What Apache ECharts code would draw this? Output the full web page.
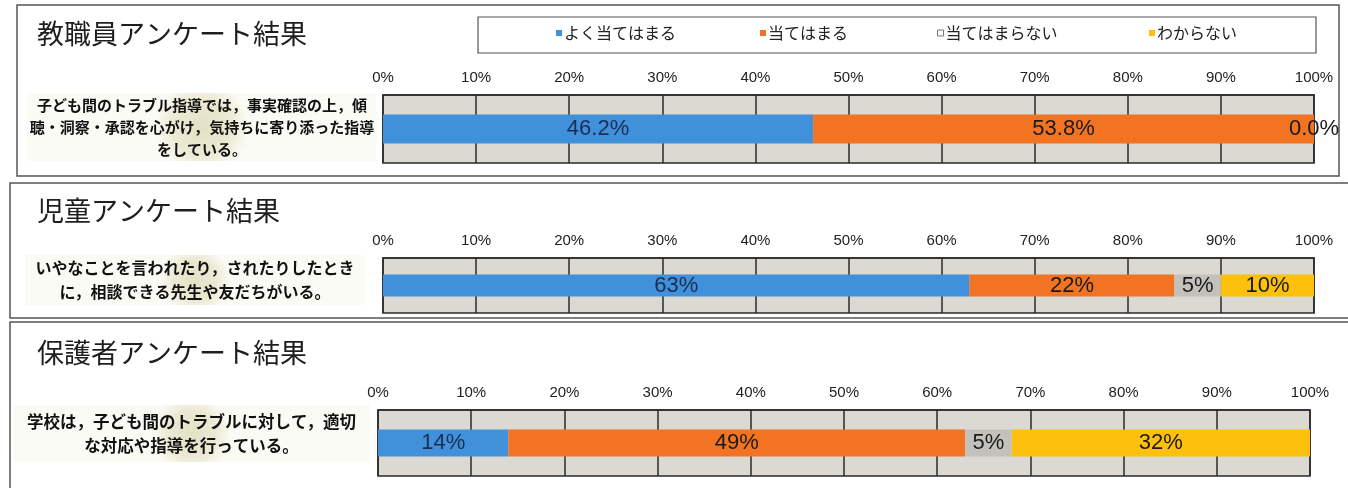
<!DOCTYPE html>
<html><head><meta charset="utf-8">
<script src="https://cdn.jsdelivr.net/npm/echarts@6/dist/echarts.min.js"></script>
<style>html,body{margin:0;padding:0;background:#fff}#c{width:1348px;height:488px}</style>
</head><body><div id="c"></div>
<script>
// ---- data ----
const seriesNames = ['よく当てはまる', '当てはまる', '当てはまらない', 'わからない'];
const seriesColors = ['#4190da', '#f27322', '#c2c1bb', '#fdc00c'];
const panelTitles = ['教職員アンケート結果', '児童アンケート結果', '保護者アンケート結果'];
const questions = [
  '子ども間のトラブル指導では，事実確認の上，傾\n聴・洞察・承認を心がけ，気持ちに寄り添った指導\nをしている。',
  'いやなことを言われたり，されたりしたとき\nに，相談できる先生や友だちがいる。',
  '学校は，子ども間のトラブルに対して，適切\nな対応や指導を行っている。'
];
const teacherValues = [46.2, 53.8, 0.0];
const childValues = [63, 22, 5, 10];
const parentValues = [14, 49, 5, 32];
const panelValues = [teacherValues, childValues, parentValues];
const labelDecimals = [1, 0, 0];
const axisMin = 0, axisMax = 100, axisStep = 10;

// ---- layout ----
const grids = [
  {left: 383, top: 95, width: 931, height: 68, barWidth: 29},
  {left: 383, top: 258, width: 931, height: 55, barWidth: 22},
  {left: 378, top: 410, width: 932, height: 66, barWidth: 27}
];
const titleTops = [20, 197, 339];
const legendLefts = [556, 760, 937, 1149];
const qBoxes = [
  {x: 27, y: 93, w: 350, h: 68, fs: 15, lh: 22},
  {x: 25, y: 255, w: 340, h: 50, fs: 16, lh: 24},
  {x: 13, y: 405, w: 357, h: 57, fs: 16.5, lh: 24}
];
const panelFrames = [
  {x: 17, y: 5, w: 1322, h: 171},
  {x: 10, y: 183, w: 1345, h: 135},
  {x: 10, y: 322, w: 1345, h: 170}
];

const latin = "'Liberation Sans','Arial',sans-serif";
const jp = "'Noto Sans CJK JP','Noto Sans CJK SC',sans-serif";

const option = {
  backgroundColor: '#fff',
  animation: false,
  title: panelTitles.map((t, i) => ({
    text: t, left: 37, top: titleTops[i], padding: 0,
    textStyle: {fontFamily: jp, fontSize: 27, fontWeight: 'normal', color: '#1e1e1e'}
  })),
  legend: seriesNames.map((n, i) => ({
    left: legendLefts[i], top: 25, padding: 0,
    itemWidth: 6, itemHeight: 6, icon: 'rect', itemGap: 0,
    textStyle: {fontFamily: jp, fontSize: 16, color: '#222', padding: [0, 0, 0, -3]},
    data: [i === 2
      ? {name: n, itemStyle: {color: '#fff', borderColor: '#777', borderWidth: 1}}
      : {name: n}]
  })),
  grid: grids.map(g => ({
    left: g.left, top: g.top, width: g.width, height: g.height,
    show: true, backgroundColor: '#dbd9d1', borderColor: '#2a2a2a', borderWidth: 1.5
  })),
  xAxis: grids.map((g, i) => ({
    type: 'value', gridIndex: i, position: 'top',
    min: axisMin, max: axisMax, interval: axisStep,
    axisLine: {show: true, lineStyle: {color: '#2a2a2a', width: 1.5}},
    axisTick: {show: false},
    splitLine: {show: true, lineStyle: {color: '#2a2a2a', width: 1.5}},
    axisLabel: {formatter: '{value}%', margin: 10, fontFamily: latin, fontSize: 15, color: '#222'}
  })),
  yAxis: grids.map((g, i) => ({
    type: 'category', gridIndex: i, data: [panelTitles[i]],
    axisLine: {show: false}, axisTick: {show: false}, axisLabel: {show: false}
  })),
  series: [],
  graphic: []
};

panelValues.forEach((vals, p) => {
  vals.forEach((v, s) => {
    option.series.push({
      type: 'bar', name: seriesNames[s], stack: 'p' + p,
      xAxisIndex: p, yAxisIndex: p,
      barWidth: grids[p].barWidth,
      data: [v],
      itemStyle: {color: seriesColors[s]},
      z: 3,
      label: {
        show: true, position: 'inside',
        formatter: d => d.value.toFixed(labelDecimals[p]) + '%',
        fontFamily: latin, fontSize: 22, color: s === 0 ? '#1b2d55' : '#1a1a1a'
      }
    });
  });
});

option.graphic.push({
  type: 'rect', shape: {x: 478, y: 17, width: 838, height: 36},
  style: {fill: '#fff', stroke: '#555', lineWidth: 1.2}, z: -1, silent: true
});

panelFrames.forEach(f => {
  option.graphic.push({
    type: 'rect', shape: {x: f.x, y: f.y, width: f.w, height: f.h},
    style: {fill: 'none', stroke: '#555', lineWidth: 1.5}, z: 1, silent: true
  });
});

qBoxes.forEach((b, i) => {
  option.graphic.push({
    type: 'rect', shape: {x: b.x, y: b.y, width: b.w, height: b.h},
    style: {
      fill: new echarts.graphic.RadialGradient(0.5, 0.5, 0.7, [
        {offset: 0, color: '#e4e1c4'}, {offset: 0.6, color: '#ebe9d3'}, {offset: 1, color: '#fbfbf6'}
      ])
    }, z: 1, silent: true
  });
  option.graphic.push({
    type: 'text', x: b.x + b.w / 2, y: b.y + b.h / 2,
    style: {
      text: questions[i], fontFamily: jp, fontWeight: 'bold', fontSize: b.fs,
      lineHeight: b.lh, fill: '#111', align: 'center', verticalAlign: 'middle'
    }, z: 2, silent: true
  });
});

const chart = echarts.init(document.getElementById('c'), null, {renderer: 'canvas'});
chart.setOption(option);
</script>
</body></html>
